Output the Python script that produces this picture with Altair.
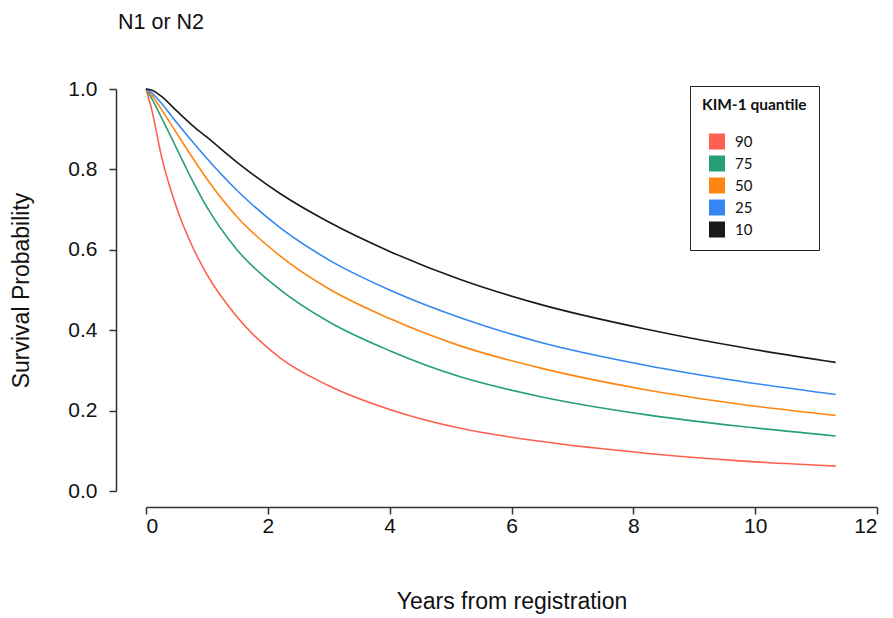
import altair as alt
import pandas as pd

years = [0, 0.1, 0.25, 0.5, 0.75, 1.0, 1.5, 2.2, 3.0, 4.0, 5.16, 6.5, 8.2, 9.75, 11.32]

q10 = [1.0, 0.997, 0.982, 0.946, 0.911, 0.880, 0.817, 0.740, 0.669, 0.596, 0.526, 0.463, 0.403, 0.358, 0.320]
q25 = [1.0, 0.990, 0.965, 0.917, 0.871, 0.827, 0.747, 0.655, 0.575, 0.500, 0.431, 0.369, 0.313, 0.273, 0.240]
q50 = [1.0, 0.984, 0.950, 0.891, 0.832, 0.776, 0.681, 0.585, 0.503, 0.429, 0.361, 0.305, 0.252, 0.216, 0.188]
q75 = [1.0, 0.975, 0.930, 0.853, 0.776, 0.706, 0.599, 0.501, 0.421, 0.349, 0.284, 0.234, 0.190, 0.161, 0.137]
q90 = [1.0, 0.945, 0.835, 0.706, 0.612, 0.539, 0.432, 0.331, 0.262, 0.203, 0.156, 0.123, 0.094, 0.075, 0.062]

quantiles = ["90", "75", "50", "25", "10"]
colors = ["#FF5F4F", "#27A078", "#FF8512", "#3487F2", "#1A1A1A"]
series = {"90": q90, "75": q75, "50": q50, "25": q25, "10": q10}

rows = []
for q in quantiles:
    for t, v in zip(years, series[q]):
        rows.append({"year": t, "surv": v, "q": q})
df = pd.DataFrame(rows)

font = "Liberation Sans"

x_enc = alt.X("year:Q",
              scale=alt.Scale(domain=[0, 12], nice=False, zero=False),
              axis=alt.Axis(title="Years from registration", values=[0, 2, 4, 6, 8, 10, 12],
                            format="d", offset=16, tickSize=7, labelPadding=1,
                            titlePadding=54))
y_enc = alt.Y("surv:Q",
              scale=alt.Scale(domain=[0, 1], nice=False),
              axis=alt.Axis(title="Survival Probability", values=[0, 0.2, 0.4, 0.6, 0.8, 1.0],
                            format=".1f", offset=30, tickSize=7, labelPadding=12,
                            titlePadding=34))
qscale = alt.Scale(domain=quantiles, range=colors)

base = alt.Chart(df)

lines = base.mark_line(strokeWidth=1.6, interpolate="monotone").encode(
    x=x_enc,
    y=y_enc,
    stroke=alt.Stroke("q:N", scale=qscale, legend=None),
)

keys = base.mark_square(filled=True, opacity=0, size=10).encode(
    x=x_enc,
    y=y_enc,
    fill=alt.Fill("q:N", scale=qscale,
                  legend=alt.Legend(title="KIM-1 quantile", orient="none",
                                    legendX=544, legendY=-3,
                                    symbolType="square", symbolSize=256,
                                    symbolStrokeWidth=0, symbolOffset=7,
                                    symbolOpacity=1,
                                    strokeColor="#222222", fillColor="white",
                                    padding=12, titlePadding=20, rowPadding=6,
                                    labelFont="Lato", labelFontSize=15, labelColor="#111",
                                    titleFont="Lato", titleFontSize=15.5, titleFontWeight="bold",
                                    titleColor="#111", labelOffset=10)),
)

chart = alt.layer(keys, lines).properties(
    width=731,
    height=402,
    title=alt.TitleParams("N1 or N2", anchor="start", frame="group", dx=-28,
                          fontSize=21.5, font=font, fontWeight="normal",
                          color="#111", offset=45),
    padding={"left": 138, "top": 81, "right": 6, "bottom": 126},
    autosize=alt.AutoSizeParams(type="none"),
).configure_view(
    stroke=None
).configure_axis(
    grid=False,
    domainColor="#333333",
    tickColor="#333333",
    domainWidth=1.5,
    tickWidth=1.5,
    labelFont=font,
    labelFontSize=21,
    labelColor="#111",
    titleFont=font,
    titleFontSize=23,
    titleFontWeight="normal",
    titleColor="#111",
)

chart.save("out.html", embed_options={"renderer": "svg", "actions": False})
